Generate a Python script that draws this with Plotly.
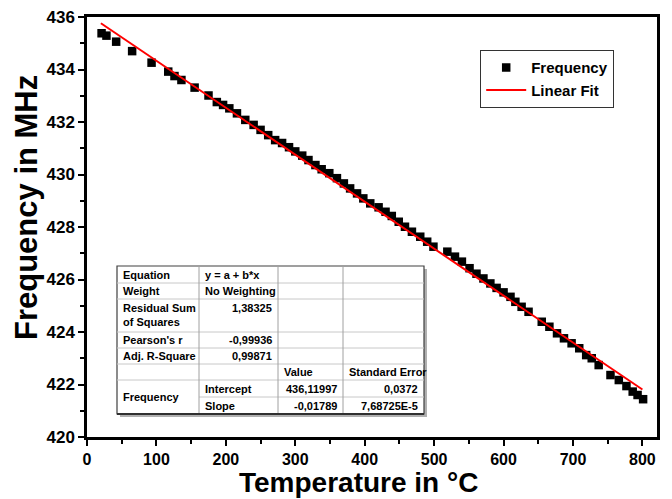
import plotly.graph_objects as go

# ---- data ----
temp_c = [21, 28, 42, 65, 93, 117, 126, 136, 155, 175, 187, 196, 205, 216, 228, 240,
          250, 261, 271, 281, 291, 300, 310, 319, 329, 338, 349, 360, 370, 379, 389,
          398, 408, 420, 430, 439, 449, 458, 468, 480, 490, 499, 519, 530, 540, 551,
          561, 571, 581, 590, 600, 610, 617, 626, 636, 655, 666, 677, 687, 698, 709,
          719, 727, 737, 754, 766, 777, 786, 793, 801]
freq_mhz = [435.38, 435.29, 435.06, 434.70, 434.26, 433.92, 433.75, 433.60, 433.31,
            433.01, 432.76, 432.65, 432.52, 432.33, 432.08, 431.89, 431.70, 431.50,
            431.31, 431.20, 431.04, 430.88, 430.72, 430.55, 430.36, 430.20, 430.05,
            429.86, 429.66, 429.47, 429.28, 429.09, 428.90, 428.75, 428.58, 428.42,
            428.20, 428.01, 427.82, 427.63, 427.44, 427.25, 427.06, 426.87, 426.68,
            426.43, 426.22, 426.04, 425.85, 425.68, 425.51, 425.34, 425.15, 424.96,
            424.77, 424.39, 424.20, 423.95, 423.76, 423.57, 423.38, 423.12, 423.00,
            422.74, 422.36, 422.17, 421.94, 421.73, 421.60, 421.44]
fit_x = [20, 800]
fit_y = [435.762, 421.808]

x_ticks = [0, 100, 200, 300, 400, 500, 600, 700, 800]
y_ticks = [420, 422, 424, 426, 428, 430, 432, 434, 436]
x_title = "Temperature in °C"
y_title = "Frequency in MHz"

table_rows = [
    ["Equation", "y = a + b*x", "", ""],
    ["Weight", "No Weighting", "", ""],
    ["Residual Sum<br>of Squares", "1,38325", "", ""],
    ["Pearson's r", "-0,99936", "", ""],
    ["Adj. R-Square", "0,99871", "", ""],
    ["", "", "Value", "Standard Error"],
    ["Frequency", "Intercept", "436,11997", "0,0372"],
    ["", "Slope", "-0,01789", "7,68725E-5"],
]

# ---- layout geometry (pixels) ----
W, H = 672, 499
L, R, T, B = 87, 657, 17, 437
PW, PH = R - L, B - T


def px(x):
    return (x - L) / PW


def py(y):
    return 1 - (y - T) / PH


FONT = "Liberation Sans, Arial, sans-serif"

fig = go.Figure()
fig.add_trace(go.Scatter(
    x=temp_c, y=freq_mhz, mode="markers", name="Frequency",
    marker=dict(symbol="square", size=8.5, color="black", line=dict(width=0)),
))
fig.add_trace(go.Scatter(
    x=fit_x, y=fit_y, mode="lines", name="Linear Fit",
    line=dict(color="#ff0000", width=2),
))

axis_common = dict(
    showgrid=False, zeroline=False, showline=True, linecolor="black", linewidth=2.5,
    mirror=True, ticks="outside", ticklen=6, tickwidth=2, tickcolor="black",
    automargin=False,
    minor=dict(ticks="outside", ticklen=4, tickwidth=2, tickcolor="black"),
)

fig.update_xaxes(
    range=[0, 821], tickvals=x_ticks, ticktext=[str(v) for v in x_ticks],
    tickfont=dict(family=FONT, size=16, color="black", weight="bold"),
    minor_tickvals=[50, 150, 250, 350, 450, 550, 650, 750],
    **axis_common,
)
fig.update_yaxes(
    range=[420, 436], tickvals=y_ticks, ticktext=[str(v) for v in y_ticks],
    tickfont=dict(family=FONT, size=17, color="black", weight="bold"),
    minor_tickvals=[421, 423, 425, 427, 429, 431, 433, 435],
    **axis_common,
)

shapes = []
annotations = []

# axis titles
annotations.append(dict(xref="paper", yref="paper", x=px(358), y=py(482),
                        xanchor="center", yanchor="middle", showarrow=False,
                        text=x_title,
                        font=dict(family=FONT, size=28, color="black", weight="bold")))
annotations.append(dict(xref="paper", yref="paper", x=px(27), y=py(208),
                        xanchor="center", yanchor="middle", showarrow=False,
                        text=y_title, textangle=-90,
                        font=dict(family=FONT, size=31, color="black", weight="bold")))

# ---- fit-result table drawn as shapes + annotations ----
col_x = [117, 199, 278, 343, 424]
row_y = [266, 283, 299, 332, 348, 364, 380, 397, 414]
shapes.append(dict(type="rect", xref="paper", yref="paper",
                   x0=px(col_x[0] + 3), x1=px(col_x[-1] + 3),
                   y0=py(row_y[0] + 3), y1=py(row_y[-1] + 3),
                   fillcolor="#b0b0b0", line=dict(width=0), layer="above"))
shapes.append(dict(type="rect", xref="paper", yref="paper",
                   x0=px(col_x[0]), x1=px(col_x[-1]), y0=py(row_y[0]), y1=py(row_y[-1]),
                   fillcolor="white", line=dict(color="#404040", width=1.2), layer="above"))
for i, yy in enumerate(row_y[1:-1], start=1):
    x0 = col_x[1] if i == 7 else col_x[0]
    shapes.append(dict(type="line", xref="paper", yref="paper",
                       x0=px(x0), x1=px(col_x[-1]), y0=py(yy), y1=py(yy),
                       line=dict(color="#c8c8c8", width=1), layer="above"))
for xx in col_x[1:-1]:
    shapes.append(dict(type="line", xref="paper", yref="paper",
                       x0=px(xx), x1=px(xx), y0=py(row_y[0]), y1=py(row_y[-1]),
                       line=dict(color="#a0a0a0", width=1), layer="above"))
shapes.append(dict(type="line", xref="paper", yref="paper",
                   x0=px(col_x[0]), x1=px(col_x[-1]), y0=py(row_y[-1]), y1=py(row_y[-1]),
                   line=dict(color="#303030", width=2), layer="above"))

TFONT = dict(family=FONT, size=11, color="black")
for r, row in enumerate(table_rows):
    for c, txt in enumerate(row):
        if not txt:
            continue
        top, bot = row_y[r], row_y[r + 1]
        if r == 6 and c == 0:
            bot = row_y[8]
        cy = (top + bot) / 2
        yanchor = "middle"
        if r == 2:
            cy = top + 1
            yanchor = "top"
        right = (c in (2, 3) and r in (6, 7)) or (c == 1 and r in (2, 3, 4))
        if right:
            ax_x, xanchor = col_x[c + 1] - 4, "right"
        else:
            ax_x, xanchor = col_x[c] + 4, "left"
        annotations.append(dict(
            xref="paper", yref="paper", x=px(ax_x), y=py(cy),
            xanchor=xanchor, yanchor=yanchor, showarrow=False, align="left",
            text=f"<b>{txt}</b>", font=TFONT))

fig.update_layout(
    width=W, height=H,
    margin=dict(l=L, r=W - R, t=T, b=H - B, pad=0, autoexpand=False),
    paper_bgcolor="white", plot_bgcolor="white",
    shapes=shapes, annotations=annotations,
    legend=dict(x=px(480), y=py(50), xanchor="left", yanchor="top",
                bgcolor="white", bordercolor="#333333", borderwidth=1.2,
                font=dict(family=FONT, size=15, color="black", weight="bold"),
                tracegroupgap=0, itemwidth=40),
    showlegend=True,
)

fig.write_html("out.html",
               config={"displayModeBar": False},
               post_script="document.body.style.margin='0px';"
                           "document.body.style.overflow='hidden';")
